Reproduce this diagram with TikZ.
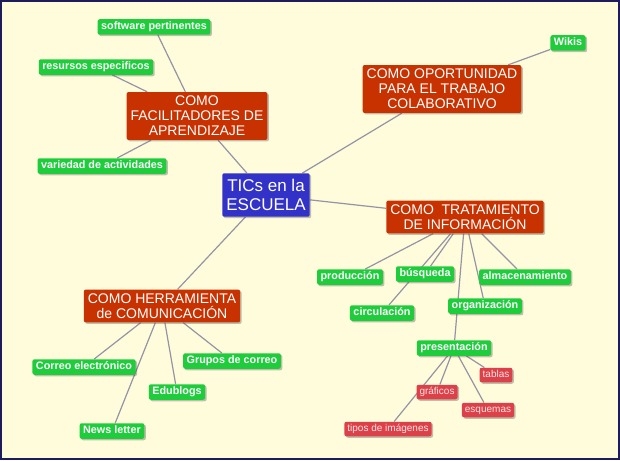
\documentclass[tikz,border=0pt]{standalone}
\usepackage{fontspec}
\setmainfont{Liberation Sans}
\usetikzlibrary{shadows}
\definecolor{paper}{HTML}{FFFCDC}
\definecolor{frame}{HTML}{1C1C5C}
\definecolor{tblue}{HTML}{3232C8}
\definecolor{tred}{HTML}{C83200}
\definecolor{tgreen}{HTML}{1ECC3C}
\definecolor{tpink}{HTML}{DC4048}
\definecolor{tpinktext}{HTML}{FFE4E4}
\definecolor{tline}{HTML}{9494A4}
\pgfdeclarelayer{back}
\pgfdeclarelayer{links}
\pgfsetlayers{back,links,main}

\begin{document}
\begin{tikzpicture}[x=1pt,y=-1pt,
sombra/.style={drop shadow={shadow xshift=1.5pt,shadow yshift=-1.5pt,fill=black!70,opacity=0.35}},
centro/.style={rectangle,rounded corners=2pt,fill=tblue,text=white,align=center,font=\fontsize{17}{19}\selectfont,inner xsep=4pt,inner ysep=6pt,sombra},
rama/.style={rectangle,rounded corners=2pt,fill=tred,text=white,align=center,font=\fontsize{14}{15}\selectfont,inner xsep=4pt,inner ysep=4pt,sombra},
hoja/.style={rectangle,rounded corners=2pt,fill=tgreen,text=white,font=\bfseries\fontsize{10.8}{12}\selectfont,text height=8pt,text depth=2.5pt,inner xsep=3.5pt,inner ysep=2.5pt,sombra},
hoja2/.style={rectangle,rounded corners=2pt,fill=tpink,text=tpinktext,font=\fontsize{10}{11}\selectfont,text height=7.5pt,text depth=2pt,inner xsep=3pt,inner ysep=2.5pt,sombra},
enlace/.style={draw=tline,line width=1.2pt}]

% Fondo
\useasboundingbox (0,0) rectangle (620,460);
\begin{pgfonlayer}{back}
\fill[paper] (0,0) rectangle (620,460);
\draw[frame,line width=2pt] (1,1) rectangle (619,459);
\end{pgfonlayer}

% Centro
\node[centro] (tics) at (266,195) {TICs en la\\ESCUELA};

% Facilitadores
\node[rama] (facil) at (197,116) {COMO\\FACILITADORES DE\\APRENDIZAJE};
\node[hoja] (software) at (154,27) {software pertinentes};
\node[hoja] (recursos) at (96,67) {resursos especificos};
\node[hoja] (variedad) at (102,166) {variedad de actividades};

% Trabajo colaborativo
\node[rama] (oportunidad) at (442,89) {COMO OPORTUNIDAD\\PARA EL TRABAJO\\COLABORATIVO};
\node[hoja] (wikis) at (568,43) {Wikis};

% Tratamiento de informacion
\node[rama] (tratamiento) at (465,217) {COMO\ \ TRATAMIENTO\\DE INFORMACIÓN};
\node[hoja] (produccion) at (350,277) {producción};
\node[hoja] (busqueda) at (425,274) {búsqueda};
\node[hoja] (almacen) at (525,277) {almacenamiento};
\node[hoja] (circulacion) at (382,313) {circulación};
\node[hoja] (organizacion) at (485,306) {organización};
\node[hoja] (presentacion) at (454,348) {presentación};
\node[hoja2] (tablas) at (496,375) {tablas};
\node[hoja2] (graficos) at (437,392) {gráficos};
\node[hoja2] (esquemas) at (488,410) {esquemas};
\node[hoja2] (imagenes) at (388,429) {tipos de imágenes};

% Herramienta de comunicacion
\node[rama] (herramienta) at (162,306) {COMO HERRAMIENTA\\de COMUNICACIÓN};
\node[hoja] (correo) at (84,367) {Correo electrónico};
\node[hoja] (grupos) at (232,361) {Grupos de correo};
\node[hoja] (edublogs) at (177,392) {Edublogs};
\node[hoja] (news) at (112,431) {News letter};

% Lineas
\begin{pgfonlayer}{links}
\draw [enlace] (tics) -- (facil);
\draw [enlace] (tics) -- (oportunidad);
\draw [enlace] (tics) -- (tratamiento);
\draw [enlace] (tics) -- (herramienta);
\draw [enlace] (facil) -- (software);
\draw [enlace] (facil) -- (recursos);
\draw [enlace] (facil) -- (variedad);
\draw [enlace] (oportunidad) -- (wikis);
\draw [enlace] (tratamiento) -- (produccion);
\draw [enlace] (tratamiento) -- (busqueda);
\draw [enlace] (tratamiento) -- (circulacion);
\draw [enlace] (tratamiento) -- (presentacion);
\draw [enlace] (tratamiento) -- (organizacion);
\draw [enlace] (tratamiento) -- (almacen);
\draw [enlace] (presentacion) -- (tablas);
\draw [enlace] (presentacion) -- (graficos);
\draw [enlace] (presentacion) -- (esquemas);
\draw [enlace] (presentacion) -- (imagenes);
\draw [enlace] (herramienta) -- (correo);
\draw [enlace] (herramienta) -- (grupos);
\draw [enlace] (herramienta) -- (edublogs);
\draw [enlace] (herramienta) -- (news);
\end{pgfonlayer}

\end{tikzpicture}
\end{document}
